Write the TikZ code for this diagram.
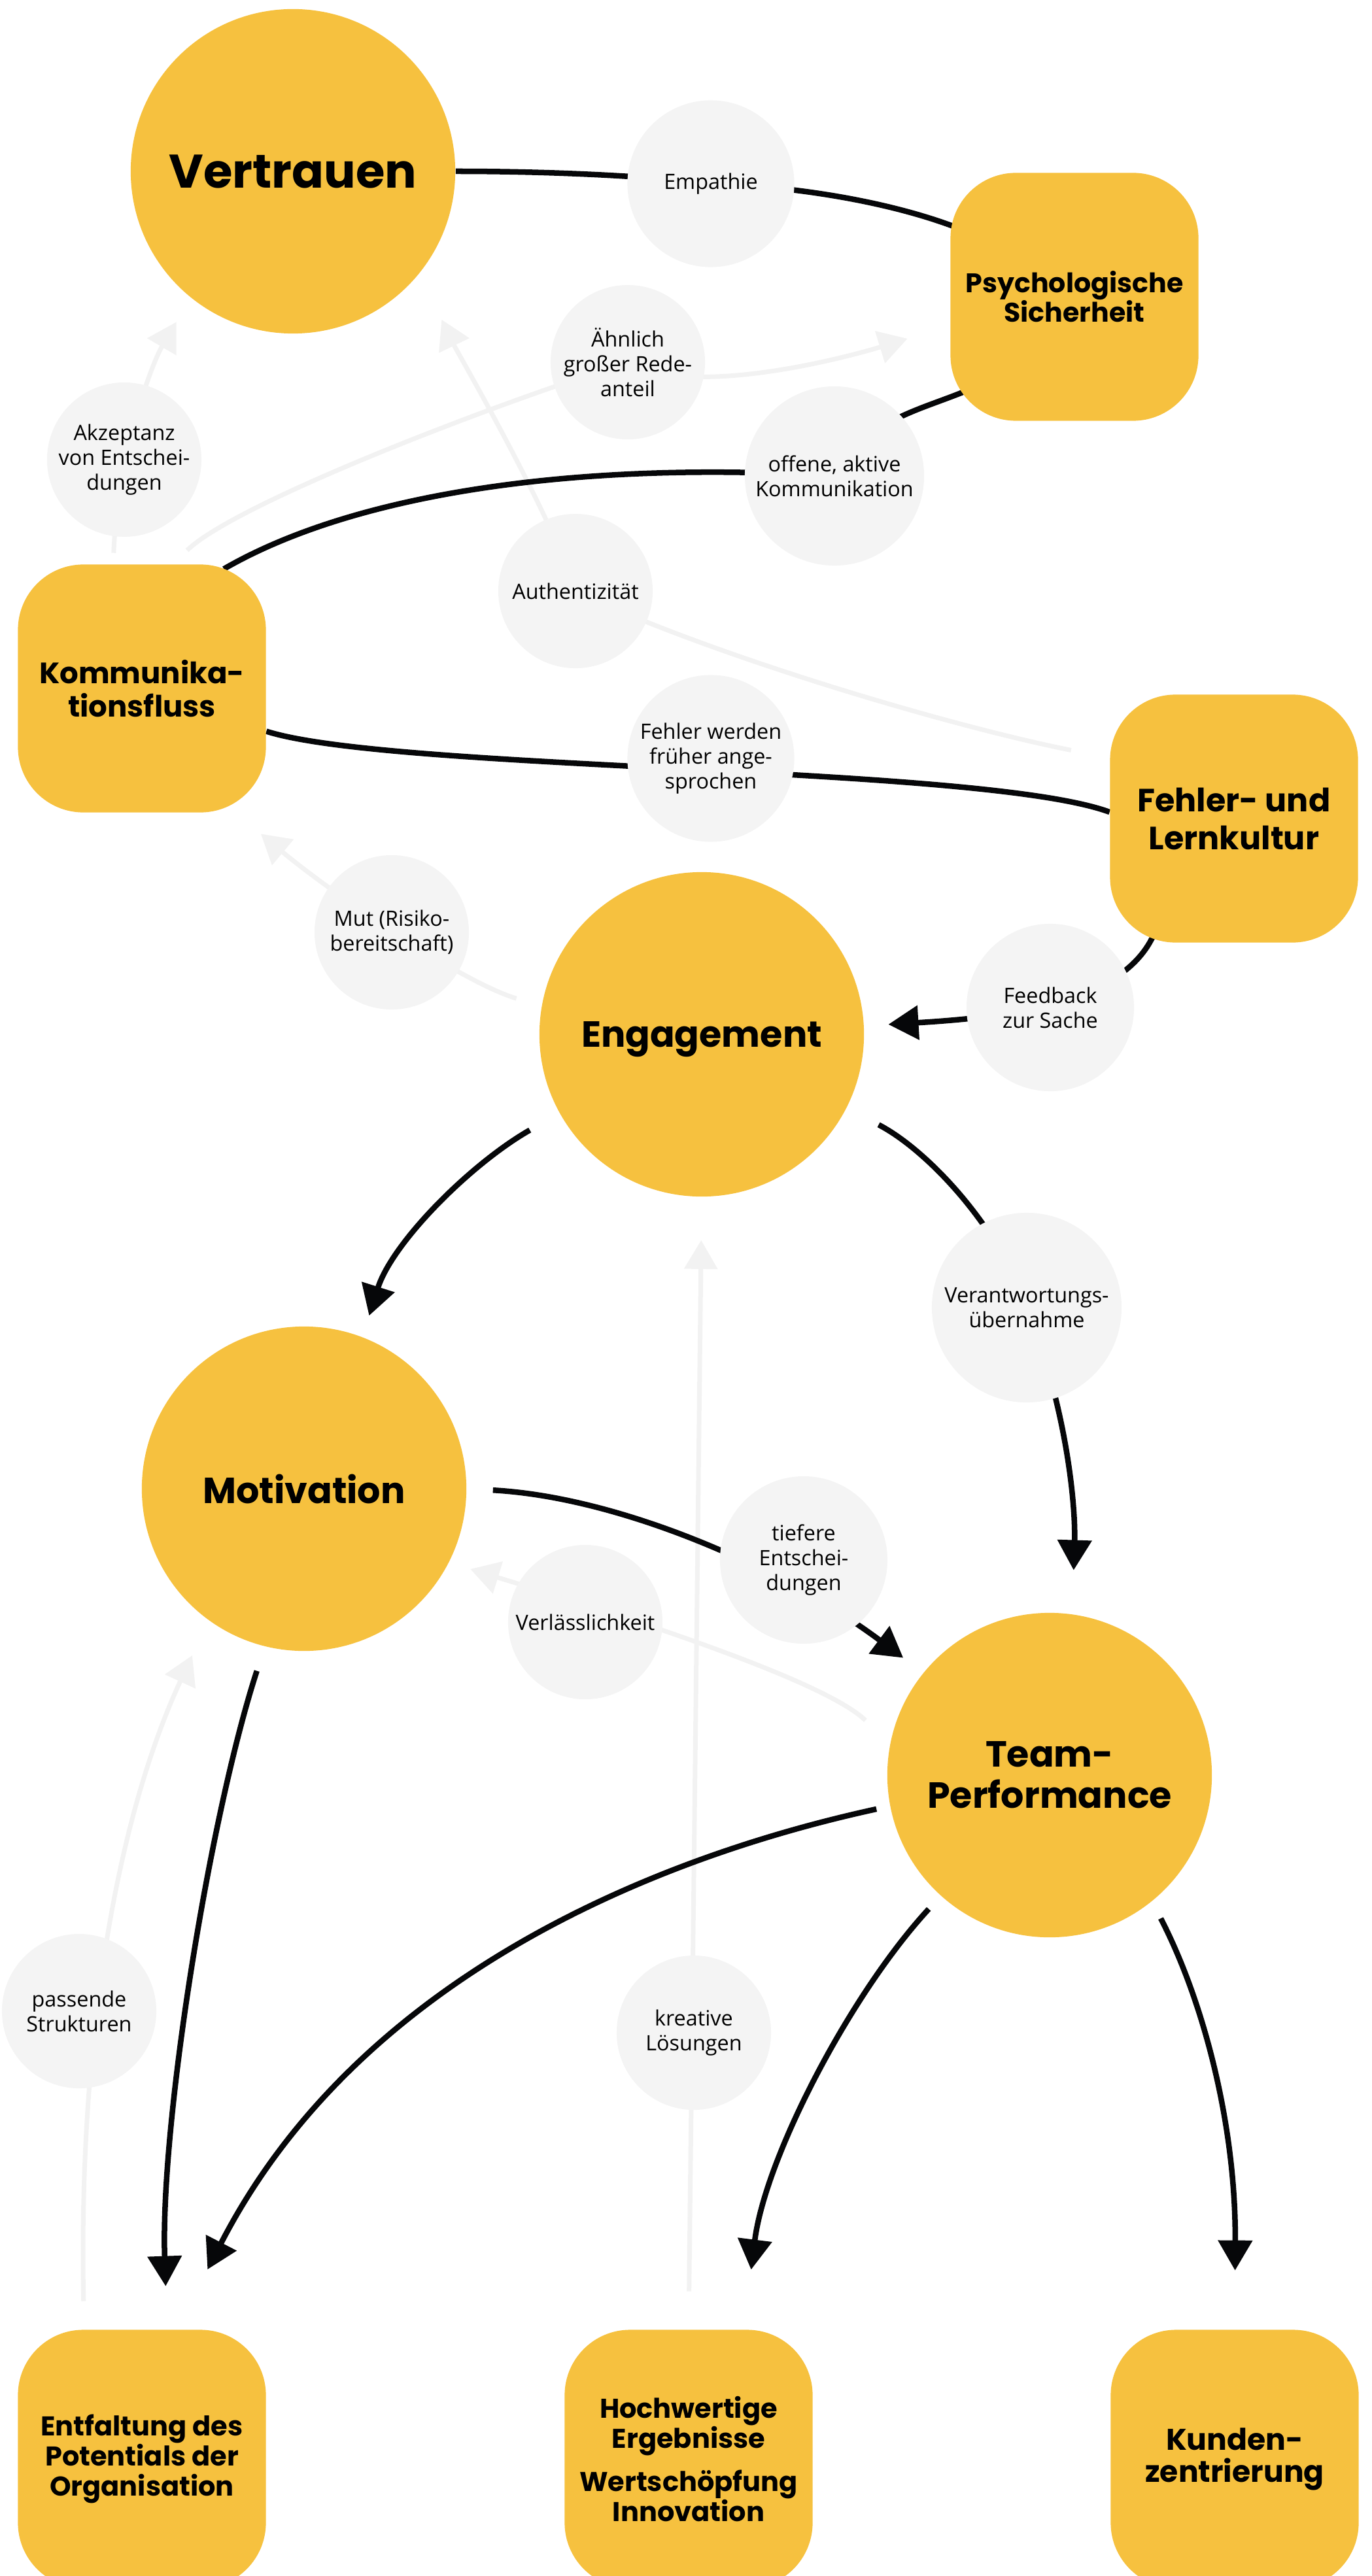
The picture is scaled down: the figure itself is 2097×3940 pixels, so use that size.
\documentclass[tikz,border=0pt]{standalone}
\usepackage{fontspec}
\setmainfont{Open Sans}
\newfontfamily\poppins{Poppins}
\usetikzlibrary{arrows.meta}

\definecolor{gelb}{HTML}{F6C13F}
\definecolor{hell}{HTML}{F4F4F4}
\definecolor{blass}{HTML}{F2F2F2}
\definecolor{tinte}{HTML}{060709}

\pgfdeclarelayer{bg}
\pgfsetlayers{bg,main}

\tikzset{
  big/.style={circle, fill=gelb, minimum size=4.96cm, inner sep=0pt, align=center,
    font=\poppins\bfseries\fontsize{15.8}{17.9}\selectfont},
  box/.style={rectangle, rounded corners=1cm, fill=gelb, minimum width=3.79cm,
    minimum height=3.79cm, inner sep=0pt, align=center},
  lowbox/.style={box, minimum height=3.95cm},
  lbl/.style={circle, fill=hell, minimum size=2.36cm, inner sep=0pt, align=center,
    font=\fontsize{9.2}{10.8}\selectfont},
  link/.style={draw=tinte, line width=0.085cm},
  arr/.style={link, -{Triangle[width=0.51cm,length=0.46cm]}},
  faint/.style={draw=blass, line width=0.07cm, -{Triangle[width=0.5cm,length=0.44cm]}}
}

\begin{document}
\begin{tikzpicture}[x=0.01cm, y=-0.01cm]
  \useasboundingbox (0,0) rectangle (2097,3940);

  \node[big, font=\poppins\bfseries\fontsize{20.5}{24}\selectfont] (vert) at (448,262) {Vertrauen};
  \node[box, font=\poppins\bfseries\fontsize{11.7}{12.8}\selectfont] (psych) at (1643,454) {Psychologische\\Sicherheit};
  \node[box, font=\poppins\bfseries\fontsize{12.8}{14.5}\selectfont] (komm) at (217,1053) {Kommunika-\\tionsfluss};
  \node[box, font=\poppins\bfseries\fontsize{14}{16.5}\selectfont] (flk) at (1887,1252) {Fehler- und\\Lernkultur};

  \node[big, text depth=0pt] (eng) at (1073,1582) {Engagement};
  \node[big] (mot) at (465,2277) {Motivation};
  \node[big] (tp) at (1605,2715) {Team-\\Performance};

  \node[lowbox, font=\poppins\bfseries\fontsize{11.8}{13.1}\selectfont] (entf) at (217,3761) {Entfaltung des\\Potentials der\\Organisation};
  \node[lowbox, font=\poppins\bfseries\fontsize{11.8}{13.1}\selectfont] (hoch) at (1053,3761) {Hochwertige\\Ergebnisse\\[0.2cm]Wertschöpfung\\Innovation};
  \node[lowbox, font=\poppins\bfseries\fontsize{13}{13.9}\selectfont] (kund) at (1888,3761) {Kunden-\\zentrierung};

  \node[lbl, minimum size=2.55cm] (emp) at (1087,281) {Empathie};
  \node[lbl] (aehn) at (960,554) {Ähnlich\\großer Rede-\\anteil};
  \node[lbl] (akz) at (190,703) {Akzeptanz\\von Entschei-\\dungen};
  \node[lbl, minimum size=2.74cm] (off) at (1276,728) {offene, aktive\\Kommunikation};
  \node[lbl] (auth) at (880,904) {Authentizität};
  \node[lbl, minimum size=2.55cm] (fehl) at (1087,1160) {Fehler werden\\früher ange-\\sprochen};
  \node[lbl] (mut) at (599,1426) {Mut (Risiko-\\bereitschaft)};
  \node[lbl, minimum size=2.56cm] (feed) at (1606,1541) {Feedback\\zur Sache};
  \node[lbl, minimum size=2.9cm] (verant) at (1570,2000) {Verantwortungs-\\übernahme};
  \node[lbl, minimum size=2.56cm] (tief) at (1229,2386) {tiefere\\Entschei-\\dungen};
  \node[lbl] (verl) at (895,2481) {Verlässlichkeit};
  \node[lbl] (pass) at (121,3076) {passende\\Strukturen};
  \node[lbl] (krea) at (1061,3109) {kreative\\Lösungen};

  \begin{pgfonlayer}{bg}
    \draw[faint, shorten <=0.17cm, shorten >=0.43cm] (komm.103) .. controls (180,700) and (230,560) .. (vert.231);
    \draw[faint, shorten <=0.3cm, shorten >=0.68cm] (komm.76) .. controls (360,770) and (750,620) .. (aehn.center)
      .. controls (1060,610) and (1300,545) .. (psych.193);
    \draw[faint, shorten <=0.6cm, shorten >=0.78cm] (flk.154) .. controls (1450,1110) and (1080,1000) .. (auth.center)
      .. controls (840,780) and (700,540) .. (vert.-39);
    \draw[faint, shorten <=0.4cm, shorten >=0.5cm] (eng.170) .. controls (700,1500) and (500,1360) .. (komm.-53);
    \draw[faint, shorten <=0.52cm, shorten >=0.34cm] (tp.169) .. controls (1250,2560) and (850,2440) .. (mot.-27);
    \draw[faint, shorten <=0.58cm, shorten >=0.66cm] (hoch.north) -- (eng.south);
    \draw[faint, shorten <=0.43cm, shorten >=0.59cm] (entf.114) .. controls (120,3150) and (170,2800) .. (mot.234);

    \draw[link, shorten >=-0.1cm] (vert.east) .. controls (850,262) and (1000,270) .. (emp.center)
      .. controls (1200,284) and (1350,305) .. (psych.150);
    \draw[link, shorten <=-0.15cm, shorten >=-0.3cm] (komm.54) .. controls (550,750) and (900,705) .. (off.center)
      .. controls (1330,640) and (1400,630) .. (psych.219);
    \draw[link] (komm.-19) .. controls (600,1180) and (1500,1170) .. (flk.177);
    \draw[arr, shorten <=-0.15cm, shorten >=0.37cm] (flk.236) .. controls (1720,1530) and (1560,1555) .. (eng.3);
    \draw[arr, shorten <=0.52cm, shorten >=0.34cm] (eng.209) .. controls (720,1780) and (600,1900) .. (mot.69);
    \draw[arr, shorten <=0.55cm, shorten >=0.67cm] (eng.-27) .. controls (1420,1760) and (1530,1880) .. (verant.center)
      .. controls (1630,2150) and (1645,2300) .. (tp.82);
    \draw[arr, shorten <=0.4cm, shorten >=0.38cm] (mot.0) .. controls (950,2290) and (1200,2400) .. (tp.141);
    \draw[arr, shorten <=0.39cm, shorten >=0.66cm] (mot.256) .. controls (320,2780) and (245,3250) .. (entf.79);
    \draw[arr, shorten <=0.21cm, shorten >=1.03cm] (tp.191) .. controls (1050,2830) and (560,3000) .. (entf.75);
    \draw[arr, shorten <=0.27cm, shorten >=0.92cm] (tp.228) .. controls (1300,3050) and (1170,3300) .. (hoch.67);
    \draw[arr, shorten <=0.29cm, shorten >=0.9cm] (tp.-51) .. controls (1840,3060) and (1890,3250) .. (kund.north);
  \end{pgfonlayer}
\end{tikzpicture}
\end{document}
